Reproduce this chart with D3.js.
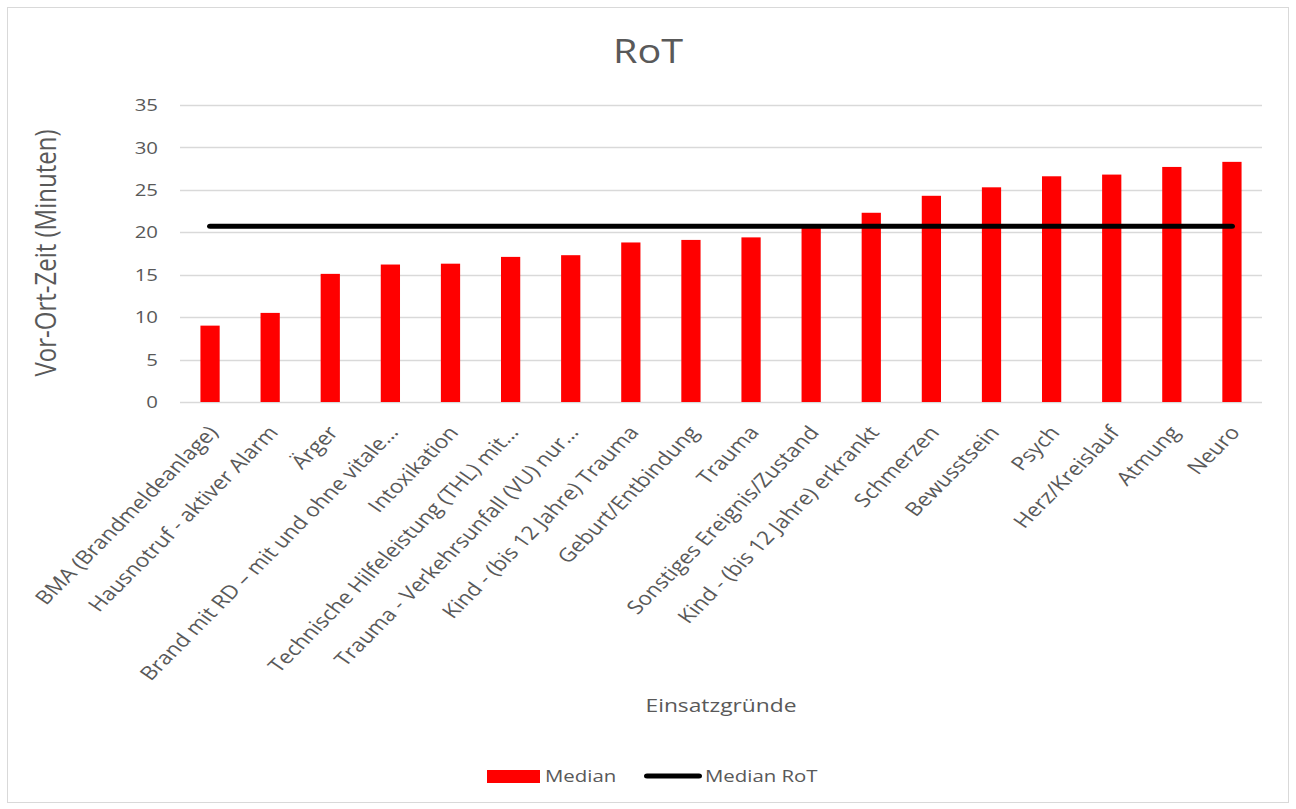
<!DOCTYPE html>
<html>
<head>
<meta charset="utf-8">
<script src="https://cdn.jsdelivr.net/npm/d3@7"></script>
<style>
  html, body { margin: 0; padding: 0; background: #fff; }
  svg { display: block; font-family: "Open Sans", "Liberation Sans", sans-serif; }
</style>
</head>
<body>
<svg id="chart" width="1296" height="809"></svg>
<script>
// Reasons for dispatch, sorted by median on-scene time
const categories = [
  "BMA (Brandmeldeanlage)",
  "Hausnotruf - aktiver Alarm",
  "Ärger",
  "Brand mit RD – mit und ohne vitale…",
  "Intoxikation",
  "Technische Hilfeleistung (THL) mit…",
  "Trauma - Verkehrsunfall (VU) nur…",
  "Kind - (bis 12 Jahre) Trauma",
  "Geburt/Entbindung",
  "Trauma",
  "Sonstiges Ereignis/Zustand",
  "Kind - (bis 12 Jahre) erkrankt",
  "Schmerzen",
  "Bewusstsein",
  "Psych",
  "Herz/Kreislauf",
  "Atmung",
  "Neuro"
];

// Median on-scene time per reason (minutes)
const medianValues = [9.0, 10.5, 15.1, 16.2, 16.3, 17.1, 17.3, 18.8, 19.1, 19.4, 20.8, 22.3, 24.3, 25.3, 26.6, 26.8, 27.7, 28.3];

// Overall median on-scene time (minutes)
const overallMedian = 20.7;

const yTicks = [0, 5, 10, 15, 20, 25, 30, 35];

const seriesNames = ["Median", "Median RoT"];
const titleText = "RoT";
const yTitle = "Vor-Ort-Zeit (Minuten)";
const xTitle = "Einsatzgründe";

const svg = d3.select("#chart");
const W = 1296, H = 809;
const textColor = "#595959";
const gridColor = "#d9d9d9";

// The chart is laid out in a narrower frame and widened horizontally
const SX = 1.2;
const ix = v => v / SX;
const labelAngle = Math.atan(SX) * 180 / Math.PI; // appears as 45° after widening

svg.append("rect").attr("width", W).attr("height", H).attr("fill", "#fff");
svg.append("rect")
  .attr("x", 7.5).attr("y", 7.5).attr("width", W - 15).attr("height", H - 14)
  .attr("fill", "none").attr("stroke", gridColor).attr("stroke-width", 1);

const g = svg.append("g").attr("transform", `scale(${SX},1)`);

const plot = { left: ix(180), right: ix(1262), top: 105, bottom: 402 };

const x = d3.scaleBand()
  .domain(categories)
  .range([plot.left, plot.right])
  .paddingInner(0.68)
  .paddingOuter(0.34);

const y = d3.scaleLinear()
  .domain([0, 35])
  .range([plot.bottom, plot.top]);

// Horizontal gridlines
g.append("g")
  .selectAll("line")
  .data(yTicks)
  .join("line")
  .attr("x1", plot.left).attr("x2", plot.right)
  .attr("y1", d => Math.round(y(d)) + 0.5).attr("y2", d => Math.round(y(d)) + 0.5)
  .attr("stroke", gridColor).attr("stroke-width", 1.3);

// Y tick labels
g.append("g")
  .selectAll("text")
  .data(yTicks)
  .join("text")
  .attr("x", ix(158))
  .attr("y", d => y(d))
  .attr("dy", "0.36em")
  .attr("text-anchor", "end")
  .attr("fill", textColor)
  .attr("font-size", 17)
  .text(d => d);

// Bars
g.append("g")
  .selectAll("rect")
  .data(medianValues)
  .join("rect")
  .attr("x", (d, i) => x(categories[i]))
  .attr("width", x.bandwidth())
  .attr("y", d => y(d))
  .attr("height", d => y(0) - y(d))
  .attr("fill", "#ff0000");

// Overall median line
const lineData = categories.map(c => ({ c, v: overallMedian }));
g.append("path")
  .datum(lineData)
  .attr("fill", "none")
  .attr("stroke", "#000")
  .attr("stroke-width", 5)
  .attr("stroke-linecap", "round")
  .attr("d", d3.line().x(d => x(d.c) + x.bandwidth() / 2).y(d => y(d.v)));

// X tick labels, rotated
g.append("g")
  .selectAll("text")
  .data(categories)
  .join("text")
  .attr("transform", d => `translate(${x(d) + x.bandwidth() / 2 + ix(9)},${plot.bottom + 31}) rotate(${-labelAngle})`)
  .attr("text-anchor", "end")
  .attr("fill", textColor)
  .attr("font-size", 19)
  .text(d => d);

// Title
g.append("text")
  .attr("x", ix(648)).attr("y", 63)
  .attr("text-anchor", "middle")
  .attr("fill", textColor)
  .attr("font-size", 33)
  .text(titleText);

// Axis titles
g.append("text")
  .attr("transform", `translate(${ix(56)},253) rotate(-90)`)
  .attr("text-anchor", "middle")
  .attr("fill", textColor)
  .attr("font-size", 24)
  .text(yTitle);

g.append("text")
  .attr("x", ix(721)).attr("y", 712)
  .attr("text-anchor", "middle")
  .attr("fill", textColor)
  .attr("font-size", 19)
  .text(xTitle);

// Legend
const legend = g.append("g");
legend.append("rect")
  .attr("x", ix(487)).attr("y", 770).attr("width", ix(53)).attr("height", 13)
  .attr("fill", "#ff0000");
legend.append("text")
  .attr("x", ix(545)).attr("y", 776).attr("dy", "0.36em")
  .attr("fill", textColor).attr("font-size", 17)
  .text(seriesNames[0]);
legend.append("line")
  .attr("x1", ix(647)).attr("x2", ix(699)).attr("y1", 776).attr("y2", 776)
  .attr("stroke", "#000").attr("stroke-width", 5).attr("stroke-linecap", "round");
legend.append("text")
  .attr("x", ix(705)).attr("y", 776).attr("dy", "0.36em")
  .attr("fill", textColor).attr("font-size", 17)
  .text(seriesNames[1]);
</script>
</body>
</html>
